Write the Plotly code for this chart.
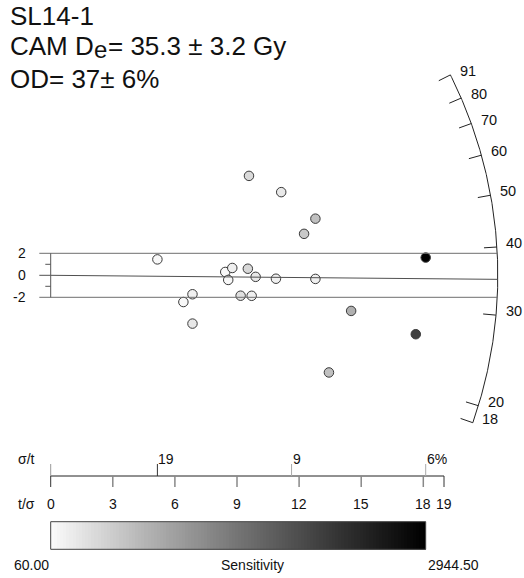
import numpy as np
import plotly.graph_objects as go

# ---------------- data ----------------
sample = "SL14-1"
cam_de, cam_err = 35.3, 3.2
od, od_err = 37, 6
z_central_de = 35.5        # central value of the z-scale
central_line_de = 34.9     # value of the central line

de = [91.2, 47.0, 36.8, 38.3, 33.8, 37.8, 35.0, 27.6, 24.3, 29.0, 29.3,
      18.7, 70.0, 53.1, 48.3, 38.8, 34.5, 34.6, 28.4, 26.2, 18.4]
rel_err = [10.44, 19.4, 11.86, 11.40, 11.66, 10.50, 10.10, 14.6, 15.6, 10.9, 10.3,
           14.6, 8.98, 7.82, 8.17, 5.52, 9.19, 7.82, 6.89, 5.67, 7.44]
sensitivity = [390, 80, 70, 163, 80, 410, 245, 163, 80, 328, 163,
               245, 245, 657, 575, 2944.5, 163, 163, 827, 2128, 657]
sens_min, sens_max = 60.00, 2944.50

arc_ticks = [20, 30, 40, 50, 60, 70, 80]
tsig_ticks = [0, 3, 6, 9, 12, 15, 18]
tsig_max = 19
ybar_ticks_major = [-2, 0, 2]
ybar_ticks_minor = [-1, 1]

gray_scale = [[0.0, "#fafafa"], [0.25, "#b4b4b4"], [0.5, "#747474"],
              [0.75, "#383838"], [1.0, "#000000"]]

# ---------------- layout constants ----------------
W, H = 524, 578
KX, KY = 20.7, 11.0          # pixels per unit (x: t/sigma, y: standardised estimate)
X0PX, Y0PX = 50.7, 275.3     # pixel position of origin
R = 21.6                     # radius of the arc in x units
FONT = "Liberation Sans, Arial, sans-serif"
TS = 26                      # title font size

def px2x(px):
    return (px - X0PX) / KX

def py2y(py):
    return (Y0PX - py) / KY

zc = np.log(z_central_de)
prec = 100.0 / np.array(rel_err)
zi = np.log(np.array(de))
xs = prec
ys = (zi - zc) * prec
f = KY / KX

def arc_point(v, rr=R):
    s = np.log(v) - zc
    x = rr / np.sqrt(1 + (f * s) ** 2)
    return x, s * x

fig = go.Figure()
shapes = []
ann = []
LC = "#222222"

def txt(x, y, text, xanchor="center", size=14, xref="x", yref="y"):
    ann.append(dict(x=x, y=y, xref=xref, yref=yref, text=text, showarrow=False,
                    xanchor=xanchor, yanchor="middle",
                    font=dict(size=size, color="#111", family=FONT)))

# arc
vals = np.exp(np.linspace(np.log(min(de)), np.log(max(de)), 300))
ax_, ay_ = arc_point(vals)
fig.add_trace(go.Scatter(x=ax_, y=ay_, mode="lines", line=dict(color=LC, width=1),
                         hoverinfo="skip", showlegend=False))
tick_vals = [min(de)] + arc_ticks + [max(de)]
for v in tick_vals:
    x1, y1 = arc_point(v)
    x2, y2 = arc_point(v, R * 0.971)
    shapes.append(dict(type="line", xref="x", yref="y", x0=x2, y0=y2, x1=x1, y1=y1,
                       line=dict(color=LC, width=1)))
    txt(x1 + 17.5 / KX, y1 + 4 / KY, str(int(round(v))), size=14.5)

# +-2 band lines
for yv in [2, -2]:
    xe = np.sqrt(R ** 2 - (yv * f) ** 2)
    shapes.append(dict(type="line", xref="x", yref="y", x0=px2x(X0PX - 11.4), y0=yv,
                       x1=xe, y1=yv, line=dict(color="#6e6e6e", width=1)))
# central line
cx, cy = arc_point(central_line_de)
shapes.append(dict(type="line", xref="x", yref="y", x0=0, y0=0, x1=cx, y1=cy,
                   line=dict(color="#505050", width=1)))
shapes.append(dict(type="line", xref="x", yref="y", x0=px2x(X0PX - 11.4), y0=0, x1=0, y1=0,
                   line=dict(color="#505050", width=1)))
# y bar
shapes.append(dict(type="line", xref="x", yref="y", x0=0, y0=-2, x1=0, y1=2,
                   line=dict(color="#555", width=1)))
for yv in ybar_ticks_minor:
    shapes.append(dict(type="line", xref="x", yref="y", x0=px2x(X0PX - 5.4), y0=yv, x1=0, y1=yv,
                       line=dict(color="#555", width=1)))
for yv in ybar_ticks_major:
    txt(px2x(27.5), yv, str(yv), xanchor="right")

# bottom axis (t/sigma and sigma/t)
ay_axis = py2y(476)
shapes.append(dict(type="line", xref="x", yref="y", x0=0, y0=ay_axis, x1=tsig_max, y1=ay_axis,
                   line=dict(color=LC, width=1)))
for t in tsig_ticks + [tsig_max]:
    edge = t in (0, tsig_max)
    shapes.append(dict(type="line", xref="x", yref="y", x0=t, y0=ay_axis, x1=t, y1=py2y(487),
                       line=dict(color="#333" if edge else "#888", width=1 if edge else 1.5)))
    txt(t, py2y(504), str(t))
sig_pos = [prec.min(), (prec.min() + prec.max()) / 2, prec.max()]
shapes.append(dict(type="line", xref="x", yref="y", x0=0, y0=ay_axis, x1=0, y1=py2y(464),
                   line=dict(color="#999", width=1)))
for i, p in enumerate(sig_pos):
    shapes.append(dict(type="line", xref="x", yref="y", x0=p, y0=ay_axis, x1=p, y1=py2y(464),
                       line=dict(color="#333" if i == 0 else "#aaa", width=1)))
    lab = str(int(round(100 / p))) + ("%" if i == len(sig_pos) - 1 else "")
    txt(p - 0.05, py2y(459), lab, xanchor="left")
txt(px2x(16), py2y(459), "σ/t", xanchor="left")
txt(px2x(16), py2y(504), "t/σ", xanchor="left")

# colour bar (heatmap from 0 to max precision)
nb = 120
cb_x = np.linspace(0, prec.max(), nb + 1)
cb_z = [list(np.linspace(sens_min, sens_max, nb))]
cb_y = [py2y(549.3), py2y(521.7)]
fig.add_trace(go.Heatmap(x=cb_x, y=cb_y, z=cb_z, colorscale=gray_scale, zmin=sens_min,
                         zmax=sens_max, showscale=False, hoverinfo="skip"))
shapes.append(dict(type="rect", xref="x", yref="y", x0=0, x1=prec.max(), y0=cb_y[0], y1=cb_y[1],
                   line=dict(color="#444", width=1)))
txt(0, py2y(565), f"{sens_min:.2f}", xanchor="right")
txt(prec.max(), py2y(565), f"{sens_max:.2f}", xanchor="left")
txt(px2x(252.5), py2y(565), "Sensitivity")

# points
fig.add_trace(go.Scatter(x=xs, y=ys, mode="markers", showlegend=False,
                         marker=dict(size=9.5, color=sensitivity, colorscale=gray_scale,
                                     cmin=sens_min, cmax=sens_max,
                                     line=dict(color="#3a3a3a", width=1))))

# title (line 2 built from three pieces so the subscript 'e' stays large)
x_left = 8
ES = 24                      # subscript size
txt(x_left / W, 1 - 15.5 / H, sample, xanchor="left", size=TS, xref="paper", yref="paper")
w_camd = 3.222 * TS          # advance width of "CAM D" in Arial metrics
w_e = 0.556 * ES
txt(x_left / W, 1 - 46 / H, "CAM D", xanchor="left", size=TS, xref="paper", yref="paper")
txt((x_left + w_camd) / W, 1 - 49.5 / H, "e", xanchor="left", size=ES, xref="paper", yref="paper")
txt((x_left + w_camd + w_e + 1) / W, 1 - 46 / H, f"= {cam_de} ± {cam_err} Gy",
    xanchor="left", size=TS, xref="paper", yref="paper")
txt(x_left / W, 1 - 79 / H, f"OD= {od}± {od_err}%", xanchor="left", size=TS,
    xref="paper", yref="paper")

fig.update_layout(
    width=W, height=H, margin=dict(l=0, r=0, t=0, b=0),
    paper_bgcolor="white", plot_bgcolor="white",
    xaxis=dict(range=[px2x(0), px2x(W)], domain=[0, 1], visible=False, fixedrange=True),
    yaxis=dict(range=[py2y(H), py2y(0)], domain=[0, 1], visible=False, fixedrange=True),
    shapes=shapes, annotations=ann, showlegend=False,
)
fig.write_html("out.html")
